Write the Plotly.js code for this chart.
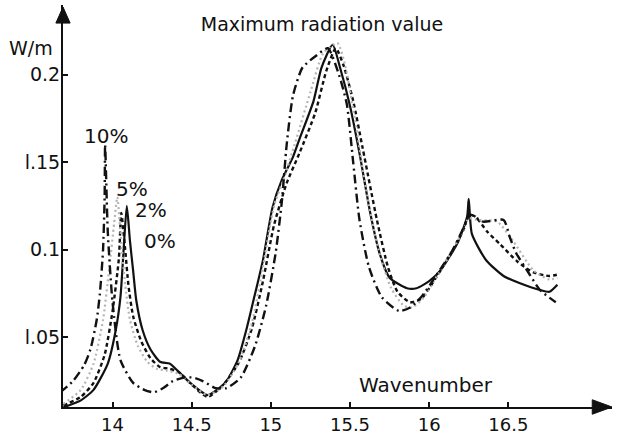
<!DOCTYPE html>
<html>
<head>
<meta charset="utf-8">
<script src="https://cdn.plot.ly/plotly-3.0.1.min.js"></script>
<style>html,body{margin:0;padding:0;background:#fff;}#chart{width:617px;height:435px;}</style>
</head>
<body>
<div id="chart"></div>
<script>
// ---- Data ----
const seriesNames = ["0%", "2%", "5%", "10%"];

const x0 = [13.69,13.80,13.88,13.97,14.02,14.05,14.07,14.09,14.11,14.13,14.15,14.19,14.24,14.30,14.36,14.41,14.49,14.60,14.66,14.72,14.79,14.85,14.89,14.95,15.01,15.07,15.14,15.18,15.27,15.32,15.39,15.44,15.50,15.56,15.63,15.69,15.75,15.86,15.92,16.00,16.07,16.18,16.24,16.25,16.27,16.36,16.47,16.57,16.70,16.76,16.81];
const y0 = [0.010,0.014,0.020,0.035,0.054,0.073,0.100,0.125,0.105,0.088,0.071,0.054,0.043,0.036,0.035,0.031,0.024,0.017,0.020,0.025,0.037,0.056,0.071,0.094,0.124,0.140,0.153,0.163,0.185,0.204,0.217,0.203,0.182,0.155,0.120,0.097,0.084,0.078,0.078,0.082,0.088,0.104,0.119,0.129,0.109,0.094,0.085,0.081,0.077,0.076,0.080];

const x2 = [13.69,13.80,13.88,13.95,14.00,14.04,14.055,14.08,14.10,14.13,14.18,14.24,14.30,14.36,14.42,14.50,14.60,14.70,14.80,14.88,14.95,15.02,15.10,15.18,15.28,15.35,15.41,15.46,15.52,15.58,15.67,15.74,15.80,15.88,15.95,16.05,16.15,16.22,16.25,16.29,16.37,16.45,16.56,16.66,16.76,16.82];
const y2 = [0.011,0.016,0.024,0.040,0.065,0.095,0.121,0.100,0.080,0.062,0.048,0.038,0.033,0.032,0.030,0.023,0.016,0.023,0.036,0.055,0.082,0.114,0.138,0.155,0.178,0.202,0.215,0.205,0.185,0.158,0.117,0.090,0.076,0.070,0.072,0.085,0.100,0.112,0.120,0.119,0.110,0.103,0.093,0.087,0.085,0.086];

const x5 = [13.69,13.80,13.88,13.94,13.98,14.01,14.03,14.05,14.08,14.11,14.16,14.22,14.28,14.34,14.42,14.50,14.60,14.70,14.80,14.88,14.95,15.02,15.08,15.15,15.25,15.33,15.42,15.47,15.53,15.60,15.68,15.76,15.84,15.89,15.96,16.05,16.15,16.22,16.25,16.30,16.43,16.53,16.66,16.76,16.81];
const y5 = [0.012,0.020,0.035,0.060,0.090,0.115,0.130,0.110,0.080,0.060,0.045,0.036,0.032,0.031,0.029,0.023,0.017,0.022,0.036,0.058,0.090,0.125,0.140,0.160,0.190,0.212,0.218,0.205,0.175,0.135,0.100,0.078,0.068,0.067,0.072,0.085,0.100,0.112,0.118,0.117,0.116,0.105,0.088,0.083,0.084];

const x10 = [13.67,13.75,13.82,13.86,13.90,13.92,13.94,13.95,13.953,13.97,14.00,14.05,14.13,14.20,14.26,14.32,14.38,14.45,14.51,14.57,14.65,14.72,14.81,14.90,14.97,15.03,15.07,15.10,15.14,15.20,15.29,15.36,15.43,15.48,15.52,15.56,15.62,15.70,15.81,15.88,15.95,16.05,16.15,16.22,16.26,16.34,16.47,16.51,16.55,16.62,16.70,16.80];
const y10 = [0.0186,0.025,0.034,0.043,0.060,0.075,0.100,0.130,0.160,0.110,0.070,0.037,0.024,0.020,0.0186,0.021,0.025,0.027,0.027,0.025,0.021,0.021,0.027,0.045,0.068,0.098,0.128,0.160,0.188,0.204,0.211,0.215,0.200,0.183,0.150,0.117,0.090,0.073,0.065,0.067,0.073,0.086,0.100,0.113,0.120,0.116,0.117,0.107,0.098,0.088,0.077,0.070];

const xTickVals = [14, 14.5, 15, 15.5, 16, 16.5];
const xTickText = ["14", "14.5", "15", "15.5", "16", "16.5"];
const yTickVals = [0.05, 0.1, 0.15, 0.2];
const yTickText = ["l.05", "0.1", "l.15", "0.2"];
const labelX = [14.30, 14.24, 14.12, 13.96];
const labelY = [0.105, 0.1226, 0.1345, 0.165];

// ---- Traces ----
const FONT = "DejaVu Sans, Verdana, sans-serif";
const traces = [
  {x: x0, y: y0, name: seriesNames[0], mode: "lines", line: {color: "#111", width: 2.2, dash: "solid", shape: "spline", smoothing: 0.6}},
  {x: x2, y: y2, name: seriesNames[1], mode: "lines", line: {color: "#111", width: 2.4, dash: "4px,3px", shape: "spline", smoothing: 0.6}},
  {x: x5, y: y5, name: seriesNames[2], mode: "lines", line: {color: "#b4b4b4", width: 2.2, dash: "2px,3px", shape: "spline", smoothing: 0.6}},
  {x: x10, y: y10, name: seriesNames[3], mode: "lines", line: {color: "#111", width: 2.4, dash: "9px,4px,2px,4px", shape: "spline", smoothing: 0.6}}
];

const annotations = seriesNames.map((n, i) => ({
  x: labelX[i], y: labelY[i], xref: "x", yref: "y", text: n, showarrow: false,
  font: {family: FONT, size: 20, color: "#111"}
}));
annotations.push({x: (31 - 63) / 549, y: (407 - 48) / 402, xref: "paper", yref: "paper", text: "W/m", showarrow: false,
  xanchor: "center", yanchor: "middle", font: {family: FONT, size: 19, color: "#111"}});
annotations.push({x: (426 - 63) / 549, y: (407 - 385) / 402, xref: "paper", yref: "paper", text: "Wavenumber", showarrow: false,
  xanchor: "center", yanchor: "middle", font: {family: FONT, size: 20, color: "#111"}});

const layout = {
  width: 617, height: 435,
  margin: {l: 63, r: 5, t: 5, b: 28},
  paper_bgcolor: "#fff", plot_bgcolor: "#fff",
  showlegend: false,
  title: {text: "Maximum radiation value", x: 322 / 617, y: 1 - 24 / 435, xref: "container", yref: "container",
    xanchor: "center", yanchor: "middle", font: {family: FONT, size: 19, color: "#111"}},
  xaxis: {range: [13.687, 17.155], showgrid: false, zeroline: false, showline: true, linecolor: "#111", linewidth: 2,
    ticks: "inside", ticklen: 5, tickwidth: 2, tickcolor: "#111", tickvals: xTickVals, ticktext: xTickText,
    tickfont: {family: FONT, size: 18, color: "#111"}},
  yaxis: {range: [0.0102, 0.2397], showgrid: false, zeroline: false, showline: true, linecolor: "#111", linewidth: 2,
    ticks: "inside", ticklen: 5, tickwidth: 2, tickcolor: "#111", tickvals: yTickVals, ticktext: yTickText,
    ticklabelstandoff: -3,
    tickfont: {family: FONT, size: 19, color: "#111"}},
  annotations: annotations,
  shapes: [
    // x-axis arrowhead
    {type: "path", xref: "paper", yref: "paper", path: "M 0.964 -0.018 L 1 0 L 0.964 0.018 Z", fillcolor: "#111", line: {color: "#111", width: 1}},
    // y-axis arrowhead
    {type: "path", xref: "paper", yref: "paper", path: "M -0.013 0.955 L 0 0.995 L 0.013 0.955 Z", fillcolor: "#111", line: {color: "#111", width: 1}}
  ]
};

Plotly.newPlot("chart", traces, layout, {displayModeBar: false, staticPlot: true});
</script>
</body>
</html>
